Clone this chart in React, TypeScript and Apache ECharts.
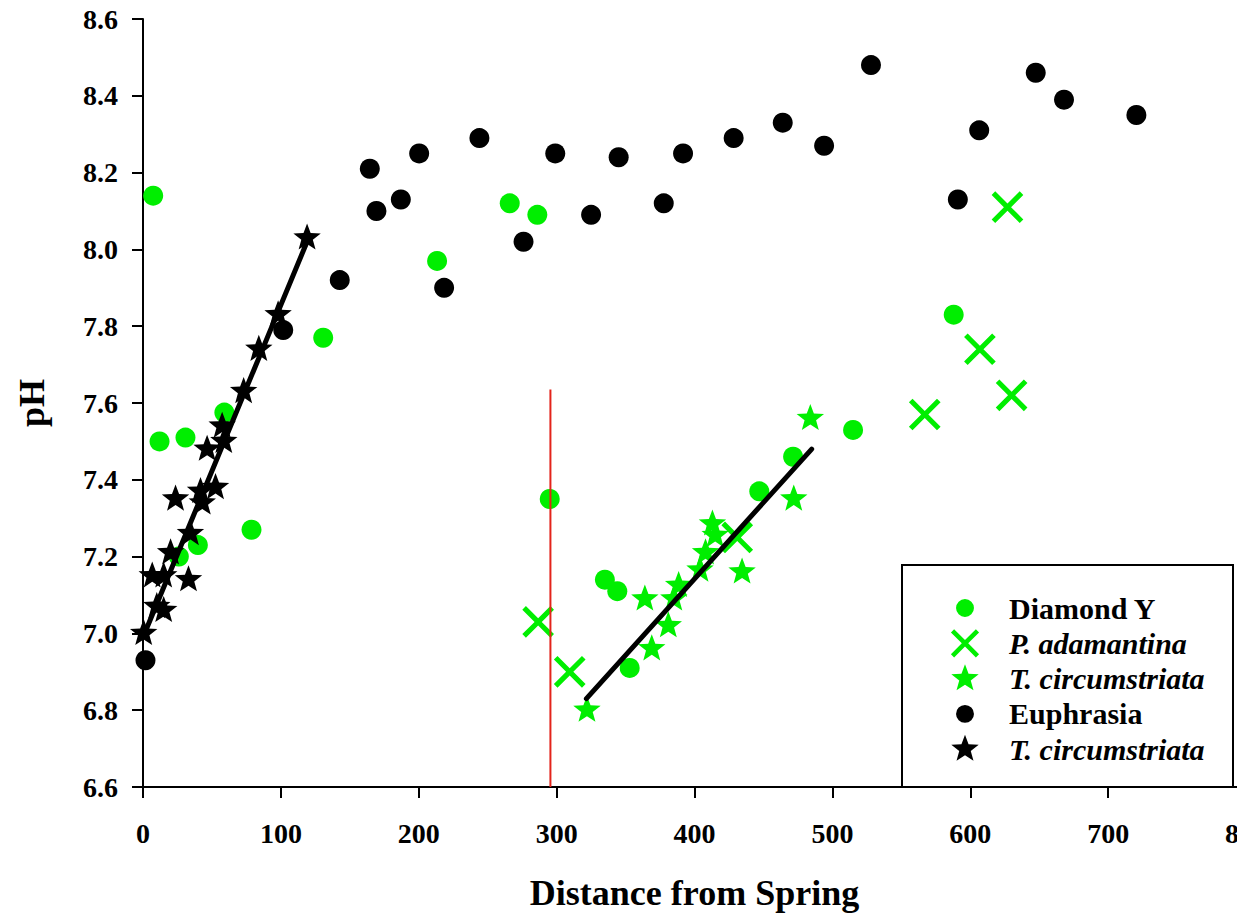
import React, { useEffect, useRef } from "react";
import * as echarts from "echarts";

// ---- data (distance from spring, pH) ----
const diamondY: number[][] = [
  [7.4, 8.14], [12, 7.5], [30.8, 7.51], [59, 7.575], [26, 7.2], [39.8, 7.23], [78.7, 7.27],
  [130.7, 7.77], [213.3, 7.97], [266, 8.12], [286, 8.09], [295, 7.35], [335, 7.14], [344, 7.11],
  [353, 6.91], [447, 7.37], [471.5, 7.46], [515, 7.53], [588, 7.83],
];
const pAdamantina: number[][] = [
  [286.6, 7.03], [309.5, 6.9], [431, 7.25], [567, 7.57], [607, 7.74], [630, 7.62], [627, 8.11],
];
const tCircDiamond: number[][] = [
  [322, 6.8], [369, 6.96], [381, 7.02], [364, 7.09], [385, 7.09], [388.5, 7.125], [404, 7.165],
  [408, 7.21], [413, 7.285], [415, 7.255], [434.5, 7.16], [472, 7.35], [484, 7.56],
];
const euphrasia: number[][] = [
  [1.8, 6.93], [101.7, 7.79], [142.7, 7.92], [164.5, 8.21], [169.3, 8.1], [187, 8.13], [200.3, 8.25],
  [218.4, 7.9], [244, 8.29], [276, 8.02], [299, 8.25], [325, 8.09], [345, 8.24], [377.7, 8.12],
  [391.7, 8.25], [428.4, 8.29], [464, 8.33], [494, 8.27], [528, 8.48], [591, 8.13], [606.5, 8.31],
  [647.5, 8.46], [668, 8.39], [720.5, 8.35],
];
const tCircEuphrasia: number[][] = [
  [0.5, 7.0], [10, 7.07], [15, 7.06], [6.7, 7.15], [15, 7.15], [33, 7.14], [20, 7.21], [34.4, 7.26],
  [23.6, 7.35], [41.7, 7.37], [43, 7.34], [52.6, 7.38], [46.5, 7.48], [57.4, 7.54], [58.6, 7.5],
  [73, 7.63], [84, 7.74], [98, 7.83], [119, 8.03],
];
const fitEuphrasia: number[][] = [[0, 6.99], [119, 8.02]];
const fitDiamond: number[][] = [[321.6, 6.83], [485, 7.48]];
const redMarker: number[][] = [[295.5, 6.6], [295.5, 7.635]];

const xTicks = { min: 0, max: 800, interval: 100 };
const yTicks = { min: 6.6, max: 8.6, interval: 0.2 };

const legendNames = [
  "Diamond Y",
  "P. adamantina",
  "T. circumstriata (Diamond Y)",
  "Euphrasia",
  "T. circumstriata (Euphrasia)",
];

const GREEN = "#00ee00";
const FONT = "'Liberation Serif', 'Times New Roman', serif";

// padded symbols (bbox 0..100 forced by the initial moves)
const STAR =
  "path://M0 0 M100 100 M50 5 L61.1 34.7 L92.8 36.1 L68 55.8 L76.5 86.4 L50 68.9 L23.5 86.4 L32 55.8 L7.2 36.1 L38.9 34.7 Z";
const XMARK =
  "path://M0 0 M100 100 M6 16 L16 6 L50 40 L84 6 L94 16 L60 50 L94 84 L84 94 L50 60 L16 94 L6 84 L40 50 Z";
const CIRCLE_PAD =
  "path://M0 0 M100 100 M22 50 A28 28 0 1 0 78 50 A28 28 0 1 0 22 50 Z";

export default function App() {
  const ref = useRef<HTMLDivElement>(null);
  useEffect(() => {
    if (!ref.current) return;
    const chart = echarts.init(ref.current, null, { renderer: "svg" });
    const boldText = { fontFamily: FONT, fontWeight: "bold" as const, color: "#000" };
    chart.setOption({
      animation: false,
      backgroundColor: "#fff",
      grid: {
        left: 143, top: 19, width: 1103, height: 768,
        containLabel: false, outerBoundsMode: "none",
      },
      xAxis: {
        type: "value",
        ...xTicks,
        name: "Distance from Spring",
        nameLocation: "middle",
        nameGap: 88,
        nameTextStyle: { ...boldText, fontSize: 36 },
        axisLine: { lineStyle: { color: "#000", width: 2 } },
        axisTick: { show: true, inside: false, length: 11, lineStyle: { color: "#000", width: 2 } },
        axisLabel: { ...boldText, fontSize: 28, margin: 32, hideOverlap: false },
        splitLine: { show: false },
      },
      yAxis: {
        type: "value",
        ...yTicks,
        name: "pH",
        nameLocation: "middle",
        nameGap: 93,
        nameRotate: 90,
        nameTextStyle: { ...boldText, fontSize: 36 },
        axisLine: { lineStyle: { color: "#000", width: 2 } },
        axisTick: { show: true, inside: false, length: 11, lineStyle: { color: "#000", width: 2 } },
        axisLabel: { ...boldText, fontSize: 28, margin: 25, formatter: (v: number) => v.toFixed(1) },
        splitLine: { show: false },
      },
      graphic: [
        {
          type: "rect",
          z: 1,
          shape: { x: 902, y: 565, width: 331, height: 222 },
          style: { fill: "#fff", stroke: "#000", lineWidth: 2 },
        },
      ],
      legend: {
        orient: "vertical",
        left: 944,
        top: 587,
        z: 10,
        itemWidth: 32,
        itemHeight: 32,
        itemGap: 3.3,
        selectedMode: false,
        formatter: (name: string) => name.replace(/ \(.*\)$/, ""),
        textStyle: { ...boldText, fontSize: 30, lineHeight: 32, padding: [0, 0, 0, 23] },
        data: [
          { name: legendNames[0], icon: CIRCLE_PAD },
          { name: legendNames[1], icon: XMARK, textStyle: { fontStyle: "italic" } },
          { name: legendNames[2], icon: STAR, textStyle: { fontStyle: "italic" } },
          { name: legendNames[3], icon: CIRCLE_PAD },
          { name: legendNames[4], icon: STAR, textStyle: { fontStyle: "italic" } },
        ],
      },
      series: [
        {
          name: legendNames[1], type: "scatter", data: pAdamantina, symbol: XMARK, symbolSize: 36,
          itemStyle: { color: GREEN, opacity: 1 },
        },
        {
          name: legendNames[0], type: "scatter", data: diamondY, symbol: "circle", symbolSize: 20,
          itemStyle: { color: GREEN, opacity: 1 },
        },
        {
          name: legendNames[2], type: "scatter", data: tCircDiamond, symbol: STAR, symbolSize: 32,
          itemStyle: { color: GREEN, opacity: 1 },
        },
        {
          name: legendNames[3], type: "scatter", data: euphrasia, symbol: "circle", symbolSize: 20,
          itemStyle: { color: "#000", opacity: 1 },
        },
        {
          name: legendNames[4], type: "scatter", data: tCircEuphrasia, symbol: STAR, symbolSize: 32,
          itemStyle: { color: "#000", opacity: 1 },
        },
        {
          name: "fitEuphrasia", type: "line", data: fitEuphrasia, symbol: "none", silent: true,
          lineStyle: { color: "#000", width: 5, cap: "round" }, z: 5,
        },
        {
          name: "fitDiamond", type: "line", data: fitDiamond, symbol: "none", silent: true,
          lineStyle: { color: "#000", width: 5, cap: "round" }, z: 5,
        },
        {
          name: "marker", type: "line", data: redMarker, symbol: "none", silent: true,
          lineStyle: { color: "#e3241b", width: 2 }, z: 5,
        },
      ],
    });
    return () => chart.dispose();
  }, []);
  return (
    <div
      ref={ref}
      style={{ position: "absolute", left: 0, top: 0, width: 1237, height: 917, overflow: "hidden" }}
    />
  );
}
